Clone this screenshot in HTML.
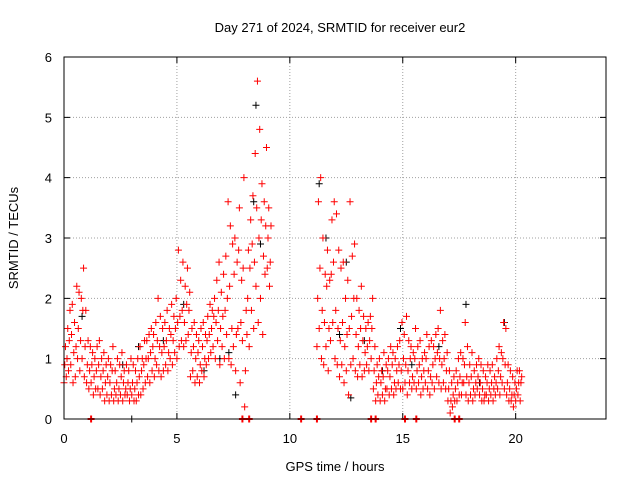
<!DOCTYPE html>
<html><head><meta charset="utf-8"><style>
body{margin:0;background:#fff}
svg{display:block;font-family:"Liberation Sans",sans-serif}
</style></head><body>
<svg id="chart" width="640" height="480">
<text x="340" y="32" text-anchor="middle" font-size="13">Day 271 of 2024, SRMTID for receiver eur2</text>
<text x="335" y="471" text-anchor="middle" font-size="13">GPS time / hours</text>
<text transform="translate(18,238) rotate(-90)" text-anchor="middle" font-size="13">SRMTID / TECUs</text>
<g id="grid"></g><g id="ticks"></g><g id="marks"></g>
<rect x="64" y="57" width="542" height="362" fill="none" stroke="#000"/>
</svg>
<script>
const xTicks=[0,5,10,15,20];
const yTicks=[0,1,2,3,4,5,6];
const redTimes=[0.0,0.1,0.2,0.3,0.4,0.5,0.6,0.7,0.8,0.9,1.0,1.1,1.2,1.3,1.4,1.5,1.6,1.7,1.8,1.9,2.0,2.1,2.2,2.3,2.4,2.5,2.6,2.7,2.8,2.9,3.0,3.1,3.2,3.3,3.4,3.5,3.6,3.7,3.8,3.9,4.0,4.1,4.2,4.3,4.4,4.5,4.6,4.7,4.8,4.9,5.0,5.1,5.2,5.3,5.4,5.5,5.6,5.7,5.8,5.9,6.0,6.1,6.2,6.3,6.4,6.5,6.6,6.7,6.8,6.9,7.0,7.1,7.2,7.3,7.4,7.5,7.6,7.7,7.8,7.9,8.0,8.1,8.2,8.3,8.4,8.5,8.6,8.7,8.8,8.9,9.0,9.1,
11.2,11.3,11.4,11.5,11.6,11.7,11.8,11.9,12.0,12.1,12.2,12.3,12.4,12.5,12.6,12.7,12.8,12.9,13.0,13.1,13.2,13.3,13.4,13.5,13.6,13.7,13.8,13.9,14.0,14.1,14.2,14.3,14.4,14.5,14.6,14.7,14.8,14.9,15.0,15.1,15.2,15.3,15.4,15.5,15.6,15.7,15.8,15.9,16.0,16.1,16.2,16.3,16.4,16.5,16.6,16.7,16.8,16.9,17.0,17.1,17.2,17.3,17.4,17.5,17.6,17.7,17.8,17.9,18.0,18.1,18.2,18.3,18.4,18.5,18.6,18.7,18.8,18.9,19.0,19.1,19.2,19.3,19.4,19.5,19.6,19.7,19.8,19.9,20.0,20.1,20.2];
const redValues=[[0.6,0.9,1.2],[0.7,1.0,1.5],[0.8,1.3,1.8],[0.9,1.4,1.9],[0.6,1.1,1.6],[0.7,1.2,2.2],[1.0,1.5,2.1],[0.8,1.3,2.0],[1.0,1.8,2.5],[0.7,1.2,1.8],[0.6,0.9,1.3],[0.5,0.8,1.2],[0.6,0.9,1.1],[0.4,0.7,1.0],[0.5,0.8,1.2],[0.5,0.9,1.3],[0.4,0.7,1.0],[0.5,0.8,1.1],[0.3,0.6,0.9],[0.4,0.7,1.0],[0.3,0.6,0.9],[0.4,0.8,1.2],[0.3,0.5,0.8],[0.4,0.6,1.0],[0.3,0.5,0.9],[0.4,0.7,1.1],[0.3,0.6,0.8],[0.4,0.5,0.9],[0.4,0.6,0.8],[0.3,0.5,1.0],[0.4,0.6,0.9],[0.3,0.5,0.8],[0.3,0.6,1.0],[0.4,0.7,1.2],[0.4,0.8,1.0],[0.5,0.9,1.3],[0.6,1.0,1.3],[0.7,1.0,1.4],[0.6,1.1,1.5],[0.8,1.2,1.4],[0.7,1.0,1.6],[0.9,1.3,2.0],[0.8,1.2,1.7],[0.7,1.1,1.5],[0.8,1.2,1.6],[0.9,1.3,1.8],[0.8,1.1,1.5],[1.0,1.4,1.9],[0.9,1.3,1.7],[1.1,1.5,2.0],[1.0,1.6,2.8],[1.2,1.7,2.3],[1.3,1.8,2.6],[1.2,1.6,2.2],[1.3,1.9,2.5],[1.4,1.8,2.1],[0.7,1.1,1.5],[0.8,1.2,1.6],[0.6,1.0,1.4],[0.7,1.1,1.3],[0.6,0.9,1.5],[0.8,1.2,1.6],[0.7,1.0,1.4],[0.9,1.3,1.7],[1.0,1.4,1.9],[1.1,1.5,1.8],[1.2,1.7,2.0],[1.0,1.6,2.3],[1.3,1.8,2.6],[0.9,1.5,2.1],[1.2,1.7,2.4],[1.0,1.8,2.7],[1.4,2.0,3.6],[1.0,2.2,3.2],[0.9,1.5,2.9],[1.2,2.4,3.0],[0.8,1.4,2.6],[1.5,2.8,3.5],[0.6,1.6,2.3],[1.3,2.5,4.0],[0.2,0.8,1.8],[1.4,2.0,2.8],[1.2,2.5,3.3],[1.8,2.9,3.7],[1.5,2.6,4.4],[2.2,3.5,5.6],[1.6,3.0,4.8],[2.0,3.3,3.9],[1.4,2.7,3.6],[2.4,3.2,4.5],[2.5,3.0,3.5],[2.2,2.6,3.2],
[1.2,2.0,3.6],[1.5,2.5,4.0],[1.0,1.8,3.0],[0.9,1.6,2.4],[1.2,2.2,2.8],[0.8,1.5,2.3],[1.3,2.4,3.3],[1.6,2.6,3.6],[1.0,1.8,3.4],[0.9,1.5,2.8],[0.7,1.3,2.5],[0.9,1.6,2.6],[0.6,1.2,2.0],[0.8,1.4,2.3],[0.4,1.5,3.6],[0.9,1.7,2.7],[1.0,2.0,2.9],[0.8,1.4,2.0],[0.7,1.2,1.8],[0.9,1.5,2.2],[0.7,1.3,1.7],[0.8,1.1,1.5],[0.9,1.2,1.6],[0.8,1.3,1.7],[1.0,1.5,2.0],[0.5,0.8,1.2],[0.3,0.6,0.9],[0.4,0.7,1.0],[0.3,0.6,0.8],[0.4,0.7,1.1],[0.3,0.5,0.9],[0.5,0.8,1.0],[0.4,0.7,1.2],[0.5,0.9,1.1],[0.4,0.6,1.0],[0.5,0.8,1.2],[0.6,0.9,1.3],[0.5,0.8,1.6],[0.5,1.0,1.4],[0.6,0.9,1.7],[0.4,0.8,1.3],[0.6,1.0,1.2],[0.5,0.7,1.1],[0.6,1.0,1.5],[0.5,0.8,1.2],[0.6,0.9,1.3],[0.4,0.7,1.0],[0.5,0.8,1.1],[0.6,1.0,1.4],[0.5,0.8,1.2],[0.4,0.7,1.3],[0.6,0.9,1.2],[0.5,1.0,1.4],[0.7,1.1,1.5],[0.6,1.0,1.8],[0.5,0.9,1.3],[0.6,1.0,1.4],[0.5,0.8,1.1],[0.3,0.5,0.8],[0.1,0.3,0.6],[0.2,0.4,0.7],[0.3,0.5,0.8],[0.3,0.6,1.0],[0.4,0.7,1.1],[0.4,0.6,1.0],[0.6,0.9,1.6],[0.4,0.7,1.2],[0.3,0.6,0.9],[0.4,0.7,1.1],[0.3,0.5,0.8],[0.4,0.6,0.9],[0.5,0.7,1.0],[0.4,0.6,0.9],[0.3,0.5,0.8],[0.3,0.4,0.7],[0.4,0.6,0.9],[0.3,0.5,0.8],[0.4,0.6,0.9],[0.3,0.5,0.7],[0.4,0.6,1.0],[0.5,0.8,1.2],[0.4,0.7,1.1],[0.6,1.0,1.6],[0.5,0.9,1.5],[0.4,0.6,0.9],[0.3,0.5,0.8],[0.3,0.4,0.7],[0.2,0.4,0.6],[0.3,0.5,0.8],[0.4,0.6,0.8],[0.3,0.6,0.7]];
const blackTimes=[0.8,2.6,3.3,4.4,5.3,6.2,6.9,7.3,7.6,8.4,8.5,8.7,11.3,11.6,12.2,12.5,12.7,13.3,14.1,14.9,15.4,16.6,17.8,18.4,19.5];
const blackValues=[1.7,0.9,1.2,1.3,1.9,0.8,1.0,1.1,0.4,3.6,5.2,2.9,3.9,3.0,1.4,2.6,0.35,1.3,0.8,1.5,0.9,1.2,1.9,0.6,1.6];
const zeroTimes=[1.2,7.9,8.2,10.5,11.2,13.6,13.8,15.1,15.6,17.3,17.5];
const zeroBlackTimes=[3.0];
const NS='http://www.w3.org/2000/svg';
const X=t=>64+t*(542/24), Y=v=>419-v*(362/6);
const grid=document.getElementById('grid'),ticks=document.getElementById('ticks'),marks=document.getElementById('marks');
function mk(tag,attrs,parent){const e=document.createElementNS(NS,tag);for(const k in attrs)e.setAttribute(k,attrs[k]);parent.appendChild(e);return e;}
xTicks.forEach(t=>{const x=X(t);
 if(t>0){const g=mk('line',{x1:x,x2:x,y1:57,y2:419,stroke:'#a0a0a0','stroke-dasharray':'1,2'},grid);
 
 }
 const tk=mk('path',{d:`M${x},419v-6M${x},57v6`,stroke:'#000'},ticks);
 
 
 const l=mk('text',{x:x,y:443,'text-anchor':'middle','font-size':'13'},ticks);l.textContent=t;
 
 });
yTicks.forEach(v=>{const y=Y(v);
 if(v>0&&v<6){const g=mk('line',{x1:64,x2:606,y1:y,y2:y,stroke:'#a0a0a0','stroke-dasharray':'1,2'},grid);
 
 }
 const tk=mk('path',{d:`M64,${y}h6M606,${y}h-6`,stroke:'#000'},ticks);
 
 
 const l=mk('text',{x:52,y:y+5,'text-anchor':'end','font-size':'13'},ticks);l.textContent=v;
 
 });
function cross(t,v,col,name,w){const x=X(t),y=Y(v);
 const p=mk('path',{d:`M${x-3.5},${y}h7M${x},${y-3.5}v7`,stroke:col,'stroke-width':w||1},marks);
 
 }
blackTimes.forEach((t,i)=>cross(t,blackValues[i],'#000','black-point'));
redTimes.forEach((t,i)=>redValues[i].forEach((v,j)=>cross(t+j*0.033,v,'#ff0000','red-point')));
zeroBlackTimes.forEach(t=>cross(t,0,'#000','black-zero-point'));
zeroTimes.forEach(t=>cross(t,0,'#ff0000','red-zero-point',2));
</script>
</body></html>
